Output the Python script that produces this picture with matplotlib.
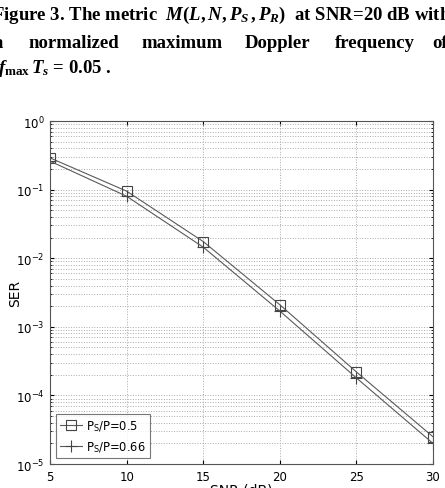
import numpy as np
import matplotlib
matplotlib.use("Agg")
import matplotlib.pyplot as plt

# values
snr = [5, 10, 15, 20, 25, 30]
ser_05 = [0.29, 0.095, 0.0175, 0.0021, 2.2e-4, 2.5e-5]
ser_066 = [0.26, 0.080, 0.0145, 0.0017, 1.8e-4, 2.0e-5]
labels = ["P$_\\mathregular{S}$/P=0.5", "P$_\\mathregular{S}$/P=0.66"]
xticks = [5, 10, 15, 20, 25, 30]

plt.rcParams['mathtext.fontset'] = 'custom'
plt.rcParams['mathtext.rm'] = 'Liberation Serif:bold'
plt.rcParams['mathtext.it'] = 'Liberation Serif:italic:bold'
plt.rcParams['mathtext.bf'] = 'Liberation Serif:bold'

fig = plt.figure(figsize=(4.45, 4.89), dpi=100)

# caption above the plot (cut at the page edges like the scan)
cap = dict(family='Liberation Serif', weight='bold', fontsize=13.5, color='black')
fig.text(-0.018, 0.968, r"Figure 3. The metric  $M(L,N,P_S\,,P_R)$  at SNR=20 dB with", va='center', **cap)
fig.text(-0.014, 0.912, "a", va='center', **cap)
fig.text(0.063, 0.912, "normalized", va='center', **cap)
fig.text(0.319, 0.912, "maximum", va='center', **cap)
fig.text(0.551, 0.912, "Doppler", va='center', **cap)
fig.text(0.753, 0.912, "frequency", va='center', **cap)
fig.text(0.971, 0.912, "of", va='center', **cap)
fig.text(-0.005, 0.86, r"$f_{\max}\,T_s$ = 0.05 .", va='center', **cap)

ax = fig.add_axes([0.1124, 0.049, 0.8606, 0.7015])
line_c = '#5a5a5a'
ax.semilogy(snr, ser_05, '-s', color=line_c, lw=0.8, ms=7.5, mfc='none', mec='#444444', mew=0.8, label=labels[0])
ax.semilogy(snr, ser_066, '-+', color=line_c, lw=0.8, ms=9, mec='#444444', mew=0.8, label=labels[1])

ax.set_xlim(5, 30)
ax.set_ylim(1e-5, 1)
ax.set_xticks(xticks)
ax.set_yticks([1, 1e-1, 1e-2, 1e-3, 1e-4, 1e-5])
ax.grid(True, which='major', linestyle=':', color='#aaaaaa', lw=0.7)
ax.grid(True, which='minor', axis='y', linestyle=':', color='#aaaaaa', lw=0.7)
ax.tick_params(which='both', direction='in', labelsize=8.5, length=3, pad=4,
               top=True, right=True)
ax.tick_params(which='minor', length=1.5)
for s in ax.spines.values():
    s.set_color('#555555')
    s.set_linewidth(0.8)

ax.set_xlabel("SNR (dB)", fontsize=10, labelpad=0)
ax.set_ylabel("SER", fontsize=10)
ax.yaxis.set_label_coords(-0.074, 0.5)

leg = ax.legend(loc='lower left', fontsize=8.3, frameon=True, fancybox=False,
                edgecolor='#555555', handlelength=1.9, borderpad=0.4,
                labelspacing=0.5, handletextpad=0.3, borderaxespad=0.5)
leg.get_frame().set_linewidth(0.8)

fig.savefig("out.png", dpi=100)
